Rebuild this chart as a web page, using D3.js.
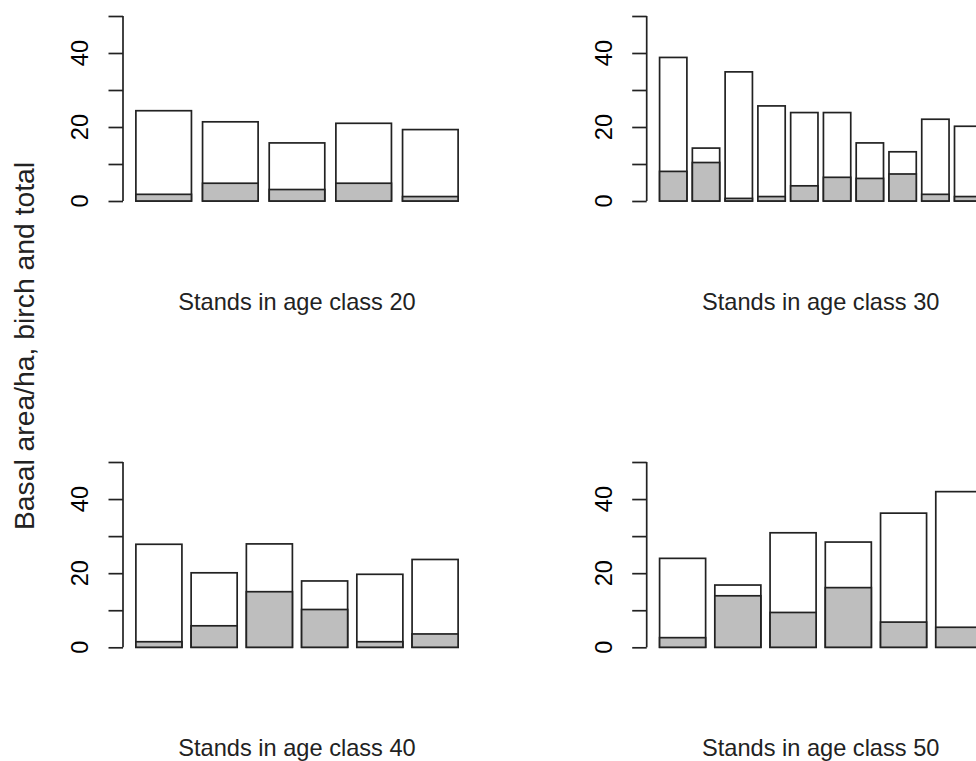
<!DOCTYPE html>
<html>
<head>
<meta charset="utf-8">
<script src="https://cdn.jsdelivr.net/npm/d3@7"></script>
<style>
  body { margin: 0; background: #fff; overflow: hidden; }
  text { font-family: "Liberation Sans", Arial, Helvetica, sans-serif; fill: #000; }
</style>
</head>
<body>
<div id="chart"></div>
<script>
// basal area per ha, total (white) and birch (grey), one array per age class
var total20 = [24.4, 21.4, 15.7, 21.0, 19.3];
var birch20 = [1.8, 4.8, 3.1, 4.8, 1.2];

var total30 = [38.8, 14.3, 34.9, 25.7, 23.9, 23.9, 15.7, 13.3, 22.1, 20.2];
var birch30 = [8.0, 10.4, 0.7, 1.2, 4.1, 6.4, 6.1, 7.3, 1.8, 1.2];

var total40 = [27.8, 20.1, 27.9, 17.9, 19.7, 23.7];
var birch40 = [1.5, 5.8, 15.0, 10.2, 1.5, 3.6];

var total50 = [24.0, 16.8, 30.9, 28.4, 36.2, 42.0];
var birch50 = [2.6, 13.9, 9.4, 16.1, 6.8, 5.4];

var ageClasses = [20, 30, 40, 50];
var yTicks = [0, 10, 20, 30, 40, 50];
var yTickLabels = [0, 20, 40];
var yTitle = "Basal area/ha, birch and total";

var width = 976, height = 761;

var svg = d3.select("#chart").append("svg")
    .attr("width", width)
    .attr("height", height);

// 2x2 panel layout (plot regions, like par(mfrow=c(2,2)))
var plotW = 348;
var colLeft = [123, 646.7];
var rowZero = [201, 647.3];
var rowTop = [16, 462];

var panels = [
  {age: ageClasses[0], total: total20, birch: birch20, col: 0, row: 0},
  {age: ageClasses[1], total: total30, birch: birch30, col: 1, row: 0},
  {age: ageClasses[2], total: total40, birch: birch40, col: 0, row: 1},
  {age: ageClasses[3], total: total50, birch: birch50, col: 1, row: 1}
];

var fontSize = 23.6;
var lineCol = "#222";

panels.forEach(function(p){

  var left = colLeft[p.col];
  var inner = plotW / 1.08;           // R extends xlim by 4% each side
  var x0 = left + 0.04 * inner;

  var x = d3.scaleBand()
      .domain(d3.range(p.total.length))
      .range([x0, x0 + inner])
      .paddingInner(0.2 / 1.2)
      .paddingOuter(0);

  var y = d3.scaleLinear()
      .domain([0, 50])
      .range([rowZero[p.row], rowTop[p.row]]);

  var g = svg.append("g");

  // total bars (white)
  g.selectAll("rect.total")
    .data(p.total)
    .enter()
    .append("rect")
      .attr("class", "total")
      .attr("x", function(d, i){ return x(i); })
      .attr("y", function(d){ return y(d); })
      .attr("width", x.bandwidth())
      .attr("height", function(d){ return y(0) - y(d); })
      .style("fill", "#fff")
      .style("stroke", lineCol)
      .style("stroke-width", 1.7);

  // birch bars (grey) drawn on top
  g.selectAll("rect.birch")
    .data(p.birch)
    .enter()
    .append("rect")
      .attr("class", "birch")
      .attr("x", function(d, i){ return x(i); })
      .attr("y", function(d){ return y(d); })
      .attr("width", x.bandwidth())
      .attr("height", function(d){ return y(0) - y(d); })
      .style("fill", "#bebebe")
      .style("stroke", lineCol)
      .style("stroke-width", 1.7);

  // y axis, R style: line between extreme ticks, ticks outward
  var axis = d3.axisLeft(y)
      .tickValues(yTicks)
      .tickSize(14.5)
      .tickFormat("");

  var ax = g.append("g")
      .attr("transform", "translate(" + left + ",0)")
      .call(axis);
  ax.select(".domain").remove();
  ax.selectAll("line").style("stroke", lineCol).style("stroke-width", 1.7);
  ax.append("line")
      .attr("x1", 0).attr("x2", 0)
      .attr("y1", y(0)).attr("y2", y(50))
      .style("stroke", lineCol)
      .style("stroke-width", 1.7);

  g.selectAll("text.tick")
    .data(yTickLabels)
    .enter()
    .append("text")
      .attr("class", "tick")
      .attr("transform", function(d){
        return "translate(" + (left - 35) + "," + y(d) + ") rotate(-90)";
      })
      .attr("text-anchor", "middle")
      .style("font-size", fontSize + "px")
      .text(function(d){ return d; });

  // x label under each panel
  g.append("text")
      .attr("x", left + plotW / 2)
      .attr("y", rowZero[p.row] + 109)
      .attr("text-anchor", "middle")
      .style("font-size", fontSize + "px")
      .style("fill", "#222")
      .text("Stands in age class " + p.age);
});

// shared y title in the outer margin
svg.append("text")
    .attr("transform", "translate(33.5,346) rotate(-90)")
    .attr("text-anchor", "middle")
    .style("font-size", "28.3px")
    .style("fill", "#222")
    .text(yTitle);
</script>
</body>
</html>
